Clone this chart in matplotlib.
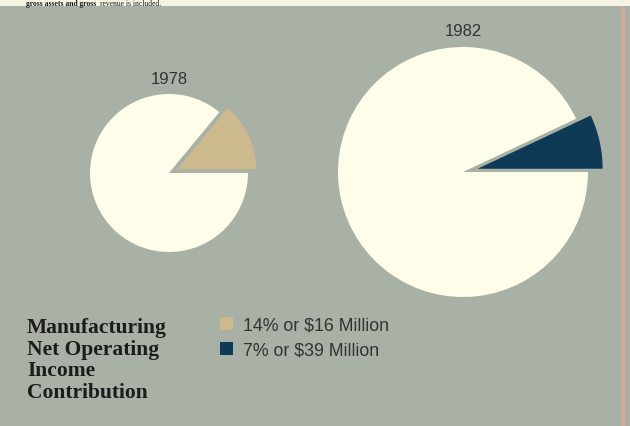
import matplotlib
matplotlib.use("Agg")
import matplotlib.pyplot as plt
from matplotlib.patches import Rectangle

# --- data -------------------------------------------------------------
years = ["1978", "1982"]
mfg_share = [14, 7]                      # manufacturing share of net operating income, %
mfg_dollars = [16, 39]                   # $ millions
legend_labels = [f"{p}% or ${d} Million" for p, d in zip(mfg_share, mfg_dollars)]
title_lines = ["Manufacturing", "Net Operating", "Income", "Contribution"]

# --- style ------------------------------------------------------------
BG = "#a9b0a6"
CREAM = "#fdfde9"
SLICE_COLORS = ["#cdb98e", "#0f3a55"]
TEXT_DARK = "#1c1c1c"
TEXT_SANS = "#333333"

W, H = 630, 427
fig = plt.figure(figsize=(W / 100, H / 100), dpi=100, facecolor=BG)
ax = fig.add_axes([0, 0, 1, 1])
ax.set_xlim(0, W)
ax.set_ylim(0, H)
ax.axis("off")


def py(y):
    """Convert a top-down pixel row to the upward data axis."""
    return H - y


# pie geometry: (center x, center y from top, radius, explode offset)
pie_geom = [(169, 174, 79, 9), (463, 173, 125, 15)]

for share, color, (cx, cy, r, ex), year in zip(mfg_share, SLICE_COLORS, pie_geom, years):
    ax.pie([share, 100 - share], colors=[color, CREAM], startangle=0,
           counterclock=True, center=(cx, py(cy)), radius=r,
           explode=[ex, 0], wedgeprops=dict(linewidth=0))
    ax.text(cx, py(cy - r - 16), year, ha="center", va="center",
            fontsize=12, color=TEXT_SANS, family="Liberation Sans")

ax.set_xlim(0, W)
ax.set_ylim(0, H)
ax.set_aspect("auto")

# legend block title (bold serif, one line each)
for i, line in enumerate(title_lines):
    ax.text(27, py(333 + i * 21.7), line, ha="left", va="baseline",
            fontsize=15.5, fontweight="bold", color=TEXT_DARK,
            family="Liberation Serif")

# legend swatches and labels
for i, (label, color) in enumerate(zip(legend_labels, SLICE_COLORS)):
    top = 318 + i * 25
    ax.add_patch(Rectangle((220, py(top + 13)), 13, 13, facecolor=color,
                           edgecolor="none"))
    ax.text(243, py(top + 13), label, ha="left", va="baseline",
            fontsize=12.8, color=TEXT_SANS, family="Liberation Sans")

# page strip above the panel with the tail of the preceding sentence
ax.add_patch(Rectangle((0, py(7)), W, 7, facecolor="#f5f3e3", edgecolor="none",
                       clip_on=False))
bold_part = ax.text(26, py(5.5), "gross assets and gross ", ha="left",
                    va="baseline", fontsize=5.5, fontweight="bold",
                    color=TEXT_DARK, family="Liberation Serif")
renderer = fig.canvas.get_renderer()
x_end = ax.transData.inverted().transform(
    bold_part.get_window_extent(renderer).corners()[-1])[0]
ax.text(x_end + 1.5, py(5.5), "revenue is included.", ha="left", va="baseline",
        fontsize=5.5, color=TEXT_DARK, family="Liberation Serif")

# panel right edge
ax.add_patch(Rectangle((621, 0), 4, py(7), facecolor="#d3a99d", edgecolor="none"))

fig.savefig("out.png", dpi=100, facecolor=BG)
